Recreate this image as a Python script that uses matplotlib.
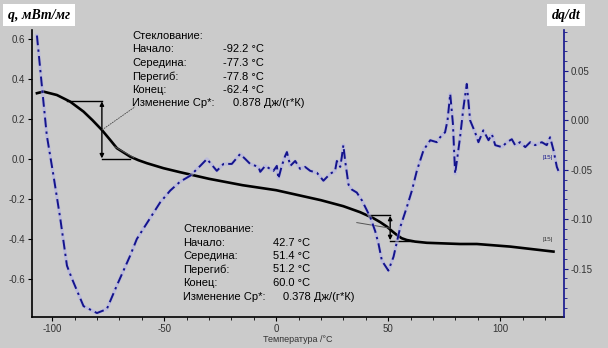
import numpy as np
import matplotlib
matplotlib.use('Agg')
import matplotlib.pyplot as plt

# heat flow q, mW/mg (left axis)
t_q = [-106.8, -103.9, -97.9, -92.0, -86.0, -82.0, -77.8, -74.0, -71.1, -65.2, -61.5,
       -57.7, -50.3, -42.9, -30.0, -15.0, 0.0, 20.0, 30.0, 37.5, 43.4, 46.5, 49.4,
       52.0, 53.9, 56.0, 58.3, 62.0, 67.3, 82.1, 89.6, 104.5, 123.8]
q = [0.330, 0.338, 0.321, 0.288, 0.238, 0.195, 0.146, 0.095, 0.055, 0.013, -0.005,
     -0.020, -0.045, -0.065, -0.098, -0.130, -0.155, -0.205, -0.235, -0.265, -0.295,
     -0.315, -0.337, -0.362, -0.379, -0.395, -0.404, -0.412, -0.418, -0.424, -0.424,
     -0.437, -0.462]

# derivative dq/dt (right axis)
t_d = [-106.8, -103.9, -102.4, -99.4, -96.4, -93.4, -91.2, -86.0, -80.0, -75.6, -71.1,
       -65.2, -62.2, -56.3, -51.8, -47.3, -42.9, -38.4, -33.9, -30.9, -26.5, -23.5,
       -19.8, -16.1, -13.8, -11.6, -7.9, -7.1, -4.9, -2.7, -1.2, 0.3, 1.0, 2.5, 4.0,
       4.8, 6.3, 8.5, 10.7, 12.9, 15.2, 18.2, 21.1, 24.1, 26.3, 27.1, 28.6, 29.3,
       30.0, 30.8, 32.3, 33.8, 36.0, 38.3, 40.5, 42.0, 44.2, 45.7, 47.2, 50.1, 52.4,
       55.4, 58.3, 60.6, 62.8, 65.8, 68.8, 71.7, 73.2, 75.4, 76.5, 77.7, 78.9, 79.9,
       82.1, 83.6, 85.1, 86.6, 88.8, 90.3, 92.5, 94.8, 96.3, 97.8, 100.8, 103.0,
       105.2, 106.7, 108.9, 111.2, 113.4, 115.6, 118.6, 120.8, 122.3, 123.8, 125.3, 126.0]
dqdt = [0.086, 0.019, -0.015, -0.056, -0.099, -0.147, -0.160, -0.188, -0.195, -0.191,
        -0.167, -0.137, -0.120, -0.099, -0.083, -0.071, -0.062, -0.056, -0.046, -0.039,
        -0.051, -0.044, -0.044, -0.034, -0.039, -0.044, -0.047, -0.052, -0.046, -0.049,
        -0.051, -0.046, -0.059, -0.046, -0.036, -0.032, -0.046, -0.041, -0.049, -0.047,
        -0.051, -0.053, -0.061, -0.054, -0.051, -0.041, -0.047, -0.037, -0.025, -0.041,
        -0.065, -0.070, -0.073, -0.081, -0.091, -0.098, -0.112, -0.125, -0.142, -0.152,
        -0.138, -0.108, -0.088, -0.071, -0.051, -0.030, -0.020, -0.022, -0.017, -0.012,
        0.000, 0.027, -0.003, -0.054, -0.017, 0.013, 0.037, 0.000, -0.012, -0.022,
        -0.010, -0.020, -0.014, -0.025, -0.027, -0.022, -0.019, -0.025, -0.022, -0.027,
        -0.022, -0.025, -0.022, -0.025, -0.017, -0.030, -0.047, -0.051]

labels = ['Стеклование:', 'Начало:', 'Середина:', 'Перегиб:', 'Конец:', 'Изменение Cp*:']
vals1 = ['-92.2 °C', '-77.3 °C', '-77.8 °C', '-62.4 °C', '0.878 Дж/(г*К)']
vals2 = ['42.7 °C', '51.4 °C', '51.2 °C', '60.0 °C', '0.378 Дж/(г*К)']

# step construction lines: (t_start, t_mid, t_end, q_top, q_bottom)
step1 = (-93.5, -77.8, -65.2, 0.293, 0.0)
step2 = (41.2, 50.9, 60.6, -0.279, -0.409)

bg = '#cbcbcb'
navy = '#14148c'
plt.rcParams['font.family'] = ['Liberation Sans', 'DejaVu Sans']
plt.rcParams['axes.unicode_minus'] = False

W, H = 608, 348
fig = plt.figure(figsize=(W / 100, H / 100), dpi=100)
fig.patch.set_facecolor(bg)
ax = fig.add_axes([32 / W, 1 - 317 / H, (564 - 32) / W, (317 - 30) / H])
ax.set_facecolor(bg)
ax2 = ax.twinx()

ax.set_xlim(-109, 128.5)
ax.set_ylim(-0.789, 0.646)
ax2.set_ylim(-0.199, 0.0916)

# blue derivative curve
ax2.plot(t_d, dqdt, color='#b0b0e8', lw=2.4, alpha=0.55, zorder=2)
ax2.plot(t_d, dqdt, color=navy, lw=1.4, ls=(0, (5, 2.2, 1.2, 2.2)), zorder=3)

# black heat flow curve
ax.plot(t_q, q, color='black', lw=1.9, zorder=4)

for s in (step1, step2):
    a, m, b, top, bot = s
    ax.plot([a, m], [top, top], color='black', lw=1.0, zorder=5)
    ax.plot([m, b], [bot, bot], color='black', lw=1.0, zorder=5)
    ax.annotate('', xy=(m, top - 0.004), xytext=(m, bot + 0.004),
                arrowprops=dict(arrowstyle='<|-|>', color='black', lw=1.0,
                                mutation_scale=6, shrinkA=0, shrinkB=0), zorder=5)

# tangents and leader line
ax.plot([36.0, 50.9], [-0.317, -0.345], color='#555555', lw=0.7, zorder=5)
ax.plot([-72.0, -63.5], [0.062, 0.008], color='#555555', lw=0.7, zorder=5)
ax.plot([-77.8, -63.0], [0.146, 0.262], color='#444444', lw=0.6, ls=(0, (2, 1)), zorder=5)

ax.text(121.3, 0.011, '|15|', fontsize=4.5, color=navy, ha='center', va='center')
ax.text(121.3, -0.40, '|15|', fontsize=4.5, color='#333333', ha='center', va='center')

# spines and ticks
ax.spines['top'].set_visible(False)
ax2.spines['top'].set_visible(False)
ax.spines['right'].set_visible(False)
ax2.spines['left'].set_visible(False)
ax2.spines['bottom'].set_visible(False)
ax2.spines['right'].set_color(navy)
ax2.spines['right'].set_linewidth(1.2)
ax.spines['left'].set_linewidth(1.2)
ax.spines['bottom'].set_linewidth(1.2)

yt = [-0.6, -0.4, -0.2, 0.0, 0.2, 0.4, 0.6]
ax.set_yticks(yt)
ax.set_yticklabels(['%.1f' % v for v in yt])
ax.set_xticks([-100, -50, 0, 50, 100])
ax.set_xticks(np.arange(-100, 130, 10), minor=True)
rt = [-0.15, -0.10, -0.05, 0.00, 0.05]
ax2.set_yticks(rt)
ax2.set_yticklabels(['%.2f' % v for v in rt])
ax2.set_yticks(np.arange(-0.19, 0.095, 0.01), minor=True)

ax.tick_params(axis='both', which='major', direction='out', length=3, width=0.8,
               labelsize=7, colors='black', labelcolor='#333333', pad=2)
ax.tick_params(axis='x', which='minor', direction='out', length=2, width=0.6)
ax2.tick_params(axis='y', which='major', direction='out', length=3, width=0.8,
                labelsize=7, colors=navy, labelcolor='#333333', pad=2)
ax2.tick_params(axis='y', which='minor', direction='out', length=2, width=0.6, colors=navy)

ax.set_xlabel('Температура /°C', fontsize=6.5, color='#333333', labelpad=1)

# annotation blocks
def block(x0, xv, y0, vals):
    for i, lab in enumerate(labels):
        y = y0 + i * 13.5
        fig.text(x0 / W, 1 - y / H, lab, fontsize=8, va='center', ha='left')
        if i > 0:
            xx = xv if i < 5 else xv + 10
            fig.text(xx / W, 1 - y / H, vals[i - 1], fontsize=8, va='center', ha='left')

block(132, 223, 36, vals1)
block(183, 273, 229, vals2)

# axis titles in white boxes
fig.text(8 / W, 1 - 15 / H, 'q, мВт/мг', fontsize=10, fontweight='bold', fontstyle='italic',
         family=['Liberation Serif', 'DejaVu Serif'], va='center', ha='left',
         bbox=dict(boxstyle='square,pad=0.35', fc='white', ec='none'))
fig.text(566 / W, 1 - 15 / H, 'dq/dt', fontsize=10, fontweight='bold', fontstyle='italic',
         family=['Liberation Serif', 'DejaVu Serif'], va='center', ha='center',
         bbox=dict(boxstyle='square,pad=0.35', fc='white', ec='none'))

fig.savefig('out.png', dpi=100, facecolor=bg)
